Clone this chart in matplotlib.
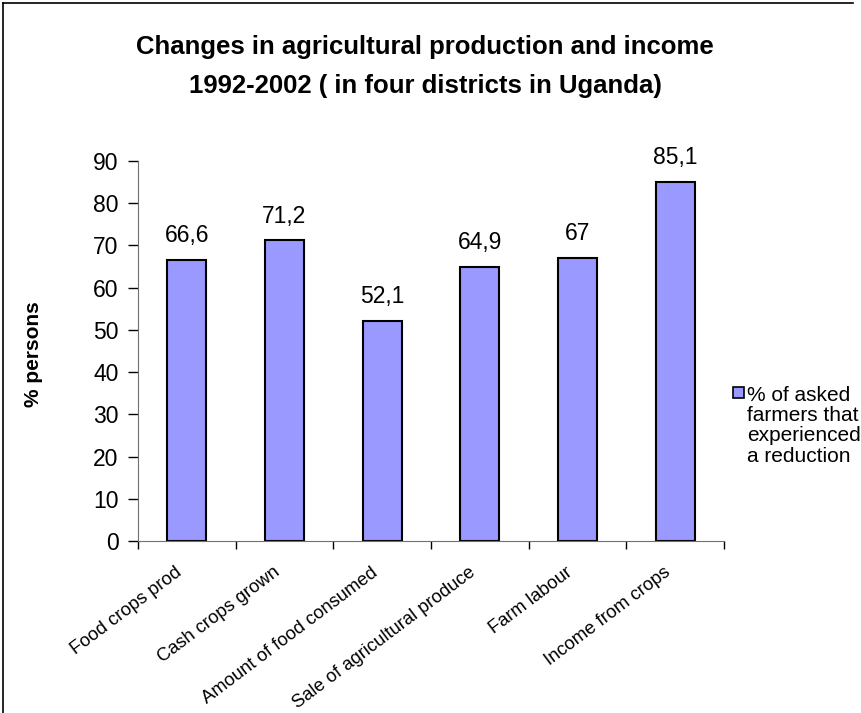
import matplotlib
matplotlib.use('Agg')
import matplotlib.pyplot as plt
from matplotlib.lines import Line2D

plt.rcParams['font.family'] = ['Liberation Sans', 'DejaVu Sans']

categories = ['Food crops prod', 'Cash crops grown', 'Amount of food consumed',
              'Sale of agricultural produce', 'Farm labour', 'Income from crops']
values = [66.6, 71.2, 52.1, 64.9, 67, 85.1]
value_labels = ['66,6', '71,2', '52,1', '64,9', '67', '85,1']
y_ticks = [0, 10, 20, 30, 40, 50, 60, 70, 80, 90]
series_name = '% of asked\nfarmers that\nexperienced\na reduction'

W, H = 862, 713
fig = plt.figure(figsize=(W / 100, H / 100), dpi=100)

# axes placed in pixel coords: left 138, right 724, top 161, bottom 541
ax = fig.add_axes([138 / W, 1 - 541 / H, (724 - 138) / W, (541 - 161) / H])

x = list(range(len(categories)))
ax.bar(x, values, width=0.4, color='#9999FF', edgecolor='black', linewidth=1.5)
for xi, v, lab in zip(x, values, value_labels):
    ax.text(xi, v + 3.0, lab, ha='center', va='bottom', fontsize=16.5)

ax.set_xlim(-0.5, len(categories) - 0.5)
ax.set_ylim(0, 90)
ax.set_yticks(y_ticks)
ax.tick_params(axis='y', labelsize=16.5, direction='out', length=7, width=1,
               pad=7, color='black')

# x ticks sit between the categories
ax.set_xticks([i + 0.5 for i in range(-1, len(categories))])
ax.set_xticklabels([])
ax.tick_params(axis='x', direction='out', length=6, width=1, color='black')
ax.spines['top'].set_visible(False)
ax.spines['right'].set_visible(False)
ax.spines['left'].set_color('#707070')
ax.spines['bottom'].set_color('#707070')

for xi, cat in zip(x, categories):
    ax.annotate(cat, xy=(xi - 0.12, 0), xycoords=('data', 'axes fraction'),
                xytext=(0, -16.5), textcoords='offset points',
                rotation=37, rotation_mode='anchor', ha='right', va='top',
                fontsize=13.2)

fig.text(34 / W, 1 - 354 / H, '% persons', rotation=90, ha='center', va='center',
         fontsize=15, fontweight='bold')

fig.text(425 / W, 1 - 47 / H, 'Changes in agricultural production and income',
         ha='center', va='center', fontsize=18.5, fontweight='bold')
fig.text(425 / W, 1 - 86 / H, '1992-2002 ( in four districts in Uganda)',
         ha='center', va='center', fontsize=18.5, fontweight='bold')

# legend
fig.patches.append(plt.Rectangle((733 / W, 1 - 398 / H), 11 / W, 11 / H,
                                 transform=fig.transFigure, facecolor='#9999FF',
                                 edgecolor='black', linewidth=1.2))
fig.text(747 / W, 1 - 386 / H, series_name, ha='left', va='top',
         fontsize=15, linespacing=1.08)

# frame lines
fig.add_artist(Line2D([3 / W, 3 / W], [0, 1 - 3 / H], transform=fig.transFigure,
                      color='black', linewidth=1.2))
fig.add_artist(Line2D([3 / W, 853 / W], [1 - 3 / H, 1 - 3 / H], transform=fig.transFigure,
                      color='black', linewidth=1.2))

fig.savefig('out.png', dpi=100)
